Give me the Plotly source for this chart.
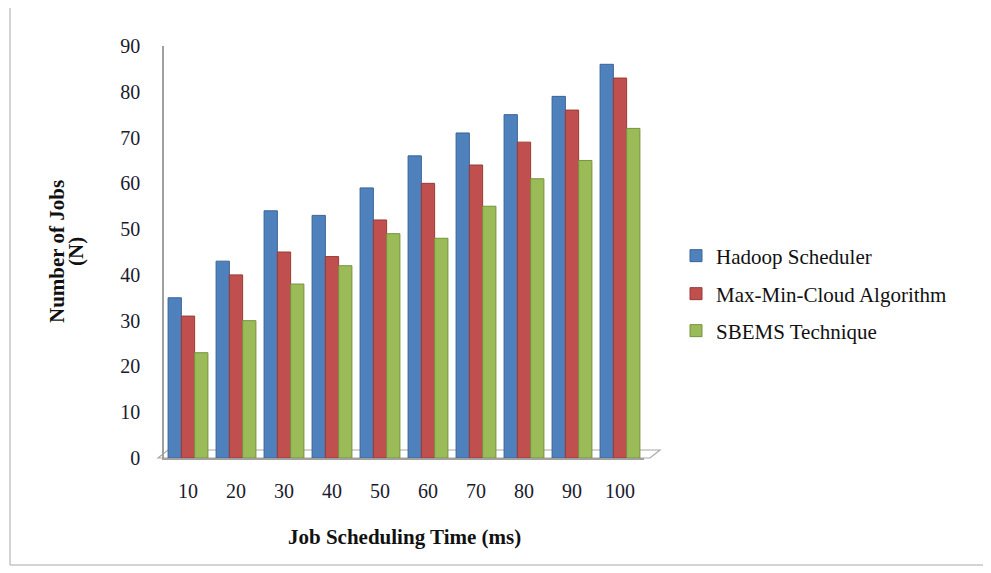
import plotly.graph_objects as go

categories = ["10", "20", "30", "40", "50", "60", "70", "80", "90", "100"]
hadoop = [35, 43, 54, 53, 59, 66, 71, 75, 79, 86]
maxmin = [31, 40, 45, 44, 52, 60, 64, 69, 76, 83]
sbems = [23, 30, 38, 42, 49, 48, 55, 61, 65, 72]
series_names = ["Hadoop Scheduler", "Max-Min-Cloud Algorithm", "SBEMS Technique"]
colors = ["#4F81BD", "#C0504D", "#9BBB59"]
edges = ["#3A6496", "#983B39", "#76923C"]

FONT = "Liberation Serif"
TXT = "#1a1a2e"

# page offset of the rendered figure (body margin)
OFF = 8
W, H = 991 - OFF, 573 - OFF
# plot area in reference pixel coordinates
X0, X1, Y0, Y1 = 164, 644, 46, 458
L, R, T, B = X0 - OFF, W - (X1 - OFF), Y0 - OFF, H - (Y1 - OFF)
pw = X1 - X0
ph = Y1 - Y0

def px(x):
    return (x - X0) / pw

def py(y):
    return (Y1 - y) / ph

legend_ids = ["legend", "legend2", "legend3"]
legend_y = [256, 294, 331]

fig = go.Figure()
for name, vals, c, e, lg in zip(series_names, [hadoop, maxmin, sbems], colors, edges, legend_ids):
    fig.add_trace(go.Bar(x=categories, y=vals, name=name, legend=lg,
                         marker=dict(color=c, line=dict(color=e, width=1))))

legend_common = dict(xanchor="left", yanchor="middle",
                     font=dict(family=FONT, size=21, color="#111"),
                     itemwidth=30, bgcolor="rgba(0,0,0,0)")
layout_legends = {}
for lg, y in zip(legend_ids, legend_y):
    layout_legends[lg] = dict(x=px(676), y=py(y), **legend_common)

title_font = dict(family=FONT, size=21, color="#111")

fig.update_layout(
    width=W, height=H,
    margin=dict(l=L, r=R, t=T, b=B),
    paper_bgcolor="white", plot_bgcolor="white",
    barmode="group", bargap=0.17, bargroupgap=0,
    font=dict(family=FONT, size=20, color=TXT),
    showlegend=True,
    xaxis=dict(showgrid=False, showline=True, linecolor="#A0A0A0", linewidth=1.5,
               ticks="", ticklabelstandoff=14,
               tickfont=dict(family=FONT, size=20, color=TXT)),
    yaxis=dict(range=[0, 90], dtick=10, showgrid=False, showline=True,
               linecolor="#A0A0A0", linewidth=1.5, ticks="", ticklabelstandoff=18,
               tickfont=dict(family=FONT, size=20, color=TXT), zeroline=False),
    annotations=[
        dict(text="<b>Number of Jobs</b>", textangle=-90, xref="paper", yref="paper",
             x=px(57), y=py(252), xanchor="center", yanchor="middle",
             showarrow=False, font=title_font),
        dict(text="<b>(N)</b>", textangle=-90, xref="paper", yref="paper",
             x=px(76), y=py(252), xanchor="center", yanchor="middle",
             showarrow=False, font=title_font),
        dict(text="<b>Job Scheduling Time (ms)</b>", xref="paper", yref="paper",
             x=px(404), y=py(537), xanchor="center", yanchor="middle",
             showarrow=False, font=title_font),
    ],
    shapes=[
        dict(type="rect", xref="paper", yref="paper", x0=px(10), x1=px(992), y0=py(565), y1=py(0),
             line=dict(color="#A8A8A8", width=1)),
        dict(type="path", xref="paper", yref="paper",
             path=f"M {px(158)},{py(458)} L {px(168)},{py(450)} L {px(660)},{py(450)} L {px(650)},{py(458)} Z",
             line=dict(color="#A8A8A8", width=1.2), fillcolor="rgba(0,0,0,0)", layer="below"),
    ],
    **layout_legends,
)

fig.write_html("out.html")
